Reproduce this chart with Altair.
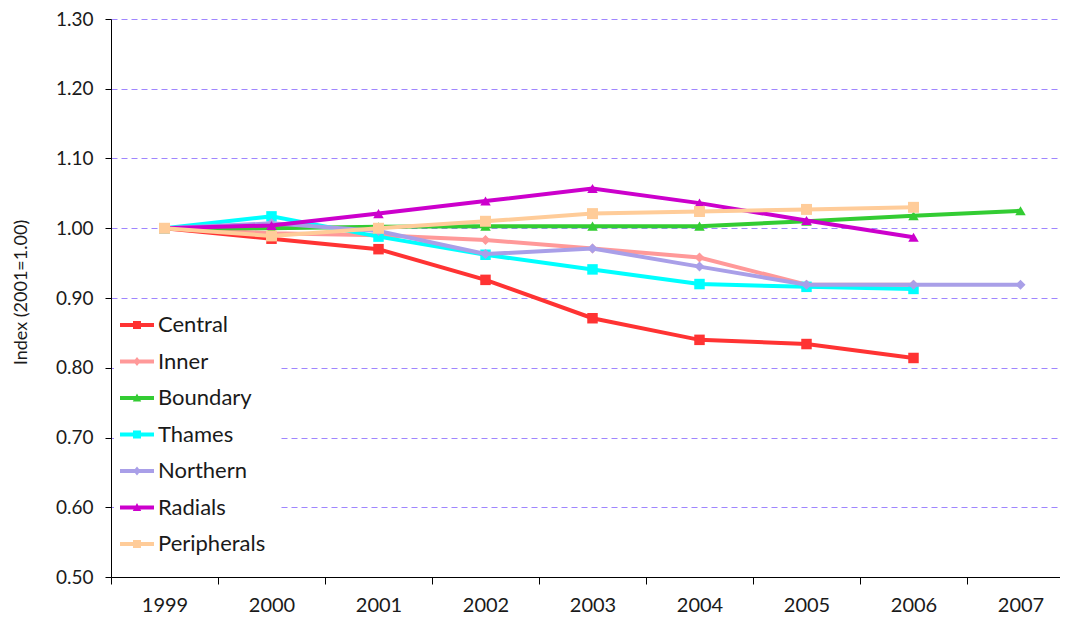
import altair as alt
import pandas as pd

years = ["1999", "2000", "2001", "2002", "2003", "2004", "2005", "2006", "2007"]
series_names = ["Central", "Inner", "Boundary", "Thames", "Northern", "Radials", "Peripherals"]
colors = ["#FF3333", "#FF9999", "#33CC33", "#00FFFF", "#A99FE8", "#CC00CC", "#FFCC99"]
markers = ["square", "diamond", "triangle-up", "square", "diamond", "triangle-up", "square"]
marker_sizes = [110, 100, 110, 110, 100, 110, 120]

central = [1.00, 0.985, 0.970, 0.926, 0.871, 0.840, 0.834, 0.814, None]
inner = [1.00, 0.993, 0.990, 0.983, 0.971, 0.958, 0.919, 0.919, None]
boundary = [1.00, 1.000, 1.002, 1.003, 1.003, 1.003, 1.010, 1.018, 1.025]
thames = [1.00, 1.017, 0.988, 0.962, 0.941, 0.920, 0.916, 0.913, None]
northern = [1.00, 1.007, 0.996, 0.963, 0.971, 0.945, 0.919, 0.919, 0.919]
radials = [1.00, 1.004, 1.021, 1.039, 1.057, 1.036, 1.011, 0.987, None]
peripherals = [1.00, 0.989, 1.000, 1.010, 1.021, 1.024, 1.027, 1.030, None]

y_ticks = [0.5, 0.6, 0.7, 0.8, 0.9, 1.0, 1.1, 1.2, 1.3]

series_values = [central, inner, boundary, thames, northern, radials, peripherals]

rows = []
for name, vals in zip(series_names, series_values):
    for yr, v in zip(years, vals):
        if v is not None:
            rows.append({"year": yr, "series": name, "value": v})
df = pd.DataFrame(rows)

FONT = "Lato"
TEXT = "#1a1a1a"

# legend symbols: line segment + marker (unit coords, r = sqrt(size)/2)
line_path = "M-1.7,-0.2H1.7V0.2H-1.7Z"
marker_paths = {
    "square": "M-0.4,-0.4H0.4V0.4H-0.4Z",
    "diamond": "M0,-0.45L0.36,0L0,0.45L-0.36,0Z",
    "triangle-up": "M0,-0.45L0.42,0.35H-0.42Z",
}
legend_paths = [line_path + marker_paths[m] for m in markers]

x_enc = alt.X(
    "year:N",
    sort=years,
    scale=alt.Scale(domain=years, paddingInner=0, paddingOuter=0, range=[0, 963]),
    axis=alt.Axis(title=None, tickBand="extent", labelAngle=0),
)
y_enc = alt.Y(
    "value:Q",
    scale=alt.Scale(domain=[0.5, 1.3], nice=False, zero=False),
    axis=alt.Axis(
        values=y_ticks,
        format=".2f",
        title="Index (2001=1.00)",
        titleX=-90,
        titleY=273,
        titleAngle=-90,
        titleAlign="center",
        titleBaseline="middle",
    ),
)
color_scale = alt.Scale(domain=series_names, range=colors)

layers = []
for name, marker, msize in zip(series_names, markers, marker_sizes):
    base = alt.Chart(df).transform_filter(alt.datum.series == name)
    line = base.mark_line(strokeWidth=4).encode(
        x=x_enc, y=y_enc, color=alt.Color("series:N", scale=color_scale, legend=None)
    )
    pts = base.mark_point(shape=marker, size=msize, filled=True, opacity=1).encode(
        x=x_enc, y=y_enc, color=alt.Color("series:N", scale=color_scale, legend=None)
    )
    layers += [line, pts]

legend_layer = alt.Chart(df).mark_point(filled=True, opacity=0, size=400).encode(
    x=x_enc,
    y=y_enc,
    color=alt.Color("series:N", scale=color_scale, legend=alt.Legend(title=None)),
    shape=alt.Shape(
        "series:N",
        scale=alt.Scale(domain=series_names, range=legend_paths),
        legend=alt.Legend(title=None),
    ),
)
layers.append(legend_layer)

chart = (
    alt.layer(*layers)
    .resolve_legend(color="independent", shape="independent")
    .properties(
        width=949,
        height=558,
        autosize=alt.AutoSizeParams(type="none"),
        padding={"left": 103, "top": 11, "right": 0, "bottom": 45},
    )
    .configure_view(stroke=None)
    .configure_axis(
        labelFont=FONT,
        labelColor=TEXT,
        titleFont=FONT,
        titleFontSize=18,
        titleFontWeight="normal",
        titleColor=TEXT,
        domainColor="#000000",
        domainWidth=1,
        tickColor="#000000",
        tickWidth=1,
    )
    .configure_axisX(grid=False, labelPadding=11, labelFontSize=20, tickSize=7)
    .configure_axisY(
        grid=True,
        gridColor="#9F85FF",
        gridDash=[6, 4],
        gridWidth=1,
        labelPadding=12,
        labelFontSize=19,
        tickSize=6,
    )
    .configure_legend(
        orient="none",
        legendX=3,
        legendY=283,
        padding=12,
        fillColor="#FFFFFF",
        labelFont=FONT,
        labelFontSize=22,
        labelColor=TEXT,
        symbolSize=400,
        symbolOpacity=1,
        symbolStrokeWidth=0,
        rowPadding=14.5,
        labelOffset=10,
    )
)

chart.save("out.html", embed_options={"renderer": "svg", "actions": False})
